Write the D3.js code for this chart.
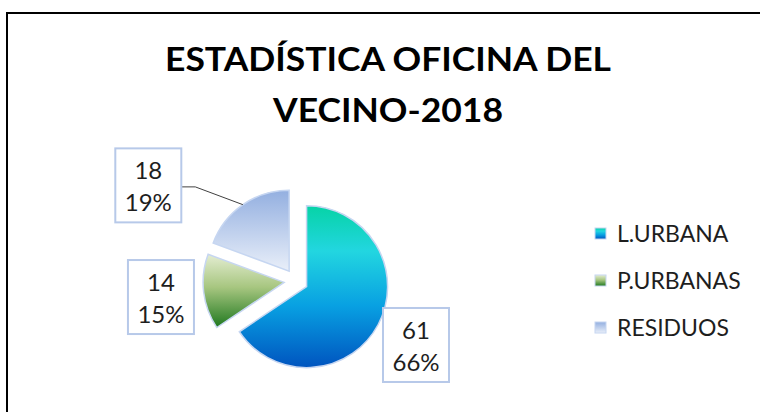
<!DOCTYPE html>
<html>
<head>
<meta charset="utf-8">
<script src="https://cdn.jsdelivr.net/npm/d3@7"></script>
<style>
  body { margin: 0; background: #fff; }
  svg { display: block; font-family: Lato, "Open Sans", sans-serif; }
</style>
</head>
<body>
<svg id="svg1" width="760" height="412"></svg>
<script>
var categories = ['L.URBANA', 'P.URBANAS', 'RESIDUOS'];
var values = [61, 14, 18];
var titleLines = ['ESTADÍSTICA OFICINA DEL', 'VECINO-2018'];

var width = 760;
var height = 412;

var cx = 296;
var cy = 281;
var radius = 81;
var explode = 12;

var svg = d3.select('#svg1');

// chart frame (runs off the right and bottom of the picture)
svg.append('rect')
    .attr('x', 7)
    .attr('y', 13)
    .attr('width', 900)
    .attr('height', 500)
    .attr('fill', 'white')
    .attr('stroke', 'black')
    .attr('stroke-width', 2);

// gradients, top to bottom
var gradStops = [
    [['0%', '#06d3a6'], ['28%', '#22d6e0'], ['62%', '#08a0e2'], ['100%', '#0054bf']],
    [['0%', '#e4edd2'], ['45%', '#a7c680'], ['100%', '#1f781f']],
    [['0%', '#93afe0'], ['100%', '#e9eff9']]
];

var defs = svg.append('defs');
gradStops.forEach(function (stops, i) {
    var g = defs.append('linearGradient')
        .attr('id', 'grad' + i)
        .attr('x1', 0).attr('y1', 0)
        .attr('x2', 0).attr('y2', 1);
    stops.forEach(function (s) {
        g.append('stop').attr('offset', s[0]).attr('stop-color', s[1]);
    });
});

// title
svg.selectAll('text.title')
    .data(titleLines)
    .enter()
    .append('text')
    .attr('class', 'title')
    .attr('x', 388)
    .attr('y', function (d, i) { return 71 + i * 51; })
    .attr('text-anchor', 'middle')
    .attr('font-size', 33)
    .attr('font-weight', 'bold')
    .attr('fill', 'black')
    .attr('textLength', function (d, i) { return i === 0 ? 446 : 230; })
    .attr('lengthAdjust', 'spacingAndGlyphs')
    .text(function (d) { return d; });

var total = d3.sum(values);
var pie = d3.pie().sort(null).startAngle(0).endAngle(2 * Math.PI);
var arcs = pie(values);

var arc = d3.arc().innerRadius(0).outerRadius(radius);

function dir(d) {
    var a = (d.startAngle + d.endAngle) / 2;
    return [Math.sin(a), -Math.cos(a)];
}

var chart = svg.append('g')
    .attr('transform', 'translate(' + cx + ',' + cy + ')');

chart.selectAll('path')
    .data(arcs)
    .enter()
    .append('path')
    .attr('transform', function (d) {
        var v = dir(d);
        return 'translate(' + v[0] * explode + ',' + v[1] * explode + ')';
    })
    .attr('d', arc)
    .attr('fill', function (d, i) { return 'url(#grad' + i + ')'; })
    .attr('stroke', '#c6d6f1')
    .attr('stroke-width', 1.5);

// data labels: placed at outside end, RESIDUOS dragged out by hand
var labelRadius = 136;
var labelShift = [[0, 0], [0, 0], [-70, 16]];
var boxW = 66;
var boxH = 74;

var labels = arcs.map(function (d, i) {
    var v = dir(d);
    return {
        x: v[0] * labelRadius + labelShift[i][0],
        y: v[1] * labelRadius + labelShift[i][1],
        edge: [v[0] * (radius + explode), v[1] * (radius + explode)],
        moved: labelShift[i][0] !== 0,
        value: d.value,
        pct: Math.round(d.value / total * 100) + '%'
    };
});

// leader line for the moved label
chart.selectAll('path.leader')
    .data(labels.filter(function (d) { return d.moved; }))
    .enter()
    .append('path')
    .attr('class', 'leader')
    .attr('fill', 'none')
    .attr('stroke', '#404040')
    .attr('stroke-width', 1)
    .attr('d', function (d) {
        var x0 = d.x + boxW / 2;
        var y0 = d.y + 1.5;
        return 'M' + x0 + ',' + y0 + 'L' + (x0 + 14) + ',' + y0 + 'L' + d.edge[0] + ',' + d.edge[1];
    });

var lab = chart.selectAll('g.lab')
    .data(labels)
    .enter()
    .append('g')
    .attr('class', 'lab')
    .attr('transform', function (d) { return 'translate(' + d.x + ',' + d.y + ')'; });

lab.append('rect')
    .attr('x', -boxW / 2)
    .attr('y', -boxH / 2)
    .attr('width', boxW)
    .attr('height', boxH)
    .attr('fill', 'white')
    .attr('stroke', '#b7c9e9')
    .attr('stroke-width', 2);

lab.append('text')
    .attr('text-anchor', 'middle')
    .attr('y', -6)
    .attr('font-size', 24)
    .attr('fill', '#1e1e1e')
    .text(function (d) { return d.value; });

lab.append('text')
    .attr('text-anchor', 'middle')
    .attr('y', 26)
    .attr('font-size', 24)
    .attr('fill', '#1e1e1e')
    .text(function (d) { return d.pct; });

// legend
var legend = svg.selectAll('g.legend')
    .data(categories)
    .enter()
    .append('g')
    .attr('class', 'legend')
    .attr('transform', function (d, i) { return 'translate(595,' + (228 + i * 47) + ')'; });

legend.append('rect')
    .attr('width', 11)
    .attr('height', 11)
    .attr('fill', function (d, i) { return 'url(#grad' + i + ')'; })
    .attr('stroke', '#c6d6f1')
    .attr('stroke-width', 1);

legend.append('text')
    .attr('x', 22)
    .attr('y', 14)
    .attr('font-size', 23)
    .attr('fill', '#1e1e1e')
    .text(function (d) { return d; });
</script>
</body>
</html>
